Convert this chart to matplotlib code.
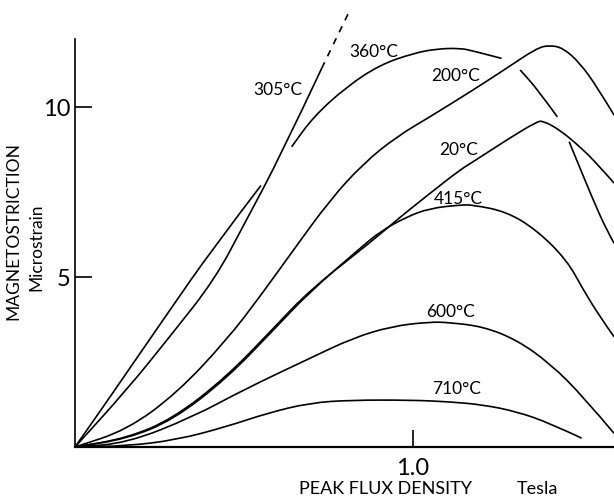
import numpy as np
import matplotlib
matplotlib.use("Agg")
import matplotlib.pyplot as plt
from matplotlib.path import Path
from matplotlib.patches import PathPatch

plt.rcParams['font.family'] = ['Lato', 'DejaVu Sans']

# flux density (T) / microstrain
b_360 = [0, 0.084, 0.172, 0.281, 0.404, 0.550, 0.641, 0.705, 0.804, 0.902, 1.001, 1.070, 1.139, 1.178, 1.262,
         1.317, 1.370, 1.427, 1.462, 1.533, 1.573, 1.595]
m_360 = [0, 1.19, 2.46, 4.03, 5.79, 7.69, 8.83, 9.71, 10.60, 11.24, 11.58, 11.71, 11.73, 11.65, 11.43,
         11.09, 10.50, 9.71, 8.98, 7.26, 6.38, 5.99]
b_305 = [0, 0.153, 0.280, 0.414, 0.504, 0.607, 0.730, 0.811]
m_305 = [0, 1.68, 3.24, 4.93, 6.62, 8.54, 11.14, 12.80]
b_200 = [0, 0.153, 0.301, 0.449, 0.547, 0.646, 0.754, 0.853, 0.952, 1.050, 1.178, 1.277, 1.366, 1.405,
         1.445, 1.494, 1.544, 1.595]
m_200 = [0, 0.50, 1.58, 3.15, 4.42, 5.79, 7.26, 8.34, 9.13, 9.71, 10.50, 11.14, 11.73, 11.82,
         11.73, 11.29, 10.60, 9.76]
b_20 = [0, 0.153, 0.291, 0.449, 0.587, 0.695, 0.883, 0.952, 1.050, 1.139, 1.178, 1.277, 1.366, 1.386,
        1.435, 1.494, 1.544, 1.595]
m_20 = [0, 0.26, 0.84, 2.07, 3.49, 4.62, 6.09, 6.68, 7.46, 8.15, 8.39, 9.03, 9.57, 9.59,
        9.32, 8.83, 8.34, 7.76]
b_415 = [0, 0.153, 0.291, 0.449, 0.587, 0.695, 0.850, 0.902, 0.981, 1.050, 1.139, 1.178, 1.277, 1.366,
         1.455, 1.504, 1.553, 1.595]
m_415 = [0, 0.24, 0.80, 2.02, 3.44, 4.57, 5.90, 6.33, 6.77, 7.02, 7.12, 7.12, 6.92, 6.38,
         5.50, 4.62, 3.83, 3.24]
b_600 = [0, 0.153, 0.350, 0.498, 0.695, 0.821, 0.936, 1.050, 1.109, 1.208, 1.307, 1.405, 1.504, 1.595]
m_600 = [0, 0.11, 0.89, 1.68, 2.61, 3.20, 3.55, 3.68, 3.66, 3.54, 3.15, 2.46, 1.48, 0.40]
b_710 = [0, 0.153, 0.301, 0.449, 0.567, 0.695, 0.820, 0.994, 1.109, 1.208, 1.307, 1.405, 1.499]
m_710 = [0, 0.03, 0.21, 0.60, 0.99, 1.30, 1.38, 1.38, 1.33, 1.24, 1.04, 0.70, 0.26]

labels = ["305°C", "360°C", "200°C", "20°C", "415°C", "600°C", "710°C"]
label_b = [0.601, 0.885, 1.127, 1.136, 1.133, 1.112, 1.130]
label_m = [10.50, 11.62, 10.91, 8.74, 7.29, 3.97, 1.71]


# smooth pen stroke: the read points are used as quadratic bezier control points
def curve(ax, b, m, **kw):
    pts = np.column_stack([b, m])
    if len(pts) < 3:
        ax.plot(b, m, color='black', lw=1.2, **kw)
        return
    verts = [pts[0], (pts[0] + pts[1]) / 2]
    codes = [Path.MOVETO, Path.LINETO]
    for i in range(1, len(pts) - 1):
        verts += [pts[i], (pts[i] + pts[i + 1]) / 2 if i < len(pts) - 2 else pts[i + 1]]
        codes += [Path.CURVE3, Path.CURVE3]
    ax.add_patch(PathPatch(Path(verts, codes), fill=False, ec='black', lw=1.2, capstyle='butt', **kw))


fig = plt.figure(figsize=(6.14, 4.97), dpi=100)
ax = fig.add_axes([75/614, 50/497, 539/614, 447/497])
ax.set_xlim(0, 539/338)
ax.set_ylim(0, 447/34)

# 360 C is drawn broken where it passes under other curves
breaks_360 = [5, 14, 17]
start = 0
for stop in breaks_360 + [len(b_360) - 1]:
    curve(ax, b_360[start:stop + 1], m_360[start:stop + 1])
    start = stop + 1

curve(ax, b_305[:-1], m_305[:-1])
curve(ax, b_305[-2:], m_305[-2:], ls=(0, (4, 4)))
for b, m in [(b_200, m_200), (b_20, m_20), (b_415, m_415), (b_600, m_600), (b_710, m_710)]:
    curve(ax, b, m)

for t, x, y in zip(labels, label_b, label_m):
    ax.text(x, y, t, ha='center', va='center', fontsize=12.5)

for s in ['top', 'right']:
    ax.spines[s].set_visible(False)
ax.spines['left'].set_bounds(0, 12)
ax.spines['left'].set_linewidth(1.2)
ax.spines['bottom'].set_linewidth(1.6)

ax.set_yticks([5, 10])
ax.set_yticklabels(["5", "10"])
ax.set_xticks([1.0])
ax.set_xticklabels(["1.0"])
ax.tick_params(direction='in', length=12, width=1.2, labelsize=17, pad=3)
ax.tick_params(axis='x', pad=8)

fig.text(13/614, 1 - 231/497, "MAGNETOSTRICTION", rotation=90, ha='center', va='center', fontsize=12.5)
fig.text(36/614, 1 - 247/497, "Microstrain", rotation=90, ha='center', va='center', fontsize=12.5)
fig.text(386/614, 1 - 489/497, "PEAK FLUX DENSITY", ha='center', va='center', fontsize=13)
fig.text(537/614, 1 - 489/497, "Tesla", ha='center', va='center', fontsize=13)

fig.savefig("out.png", dpi=100)
